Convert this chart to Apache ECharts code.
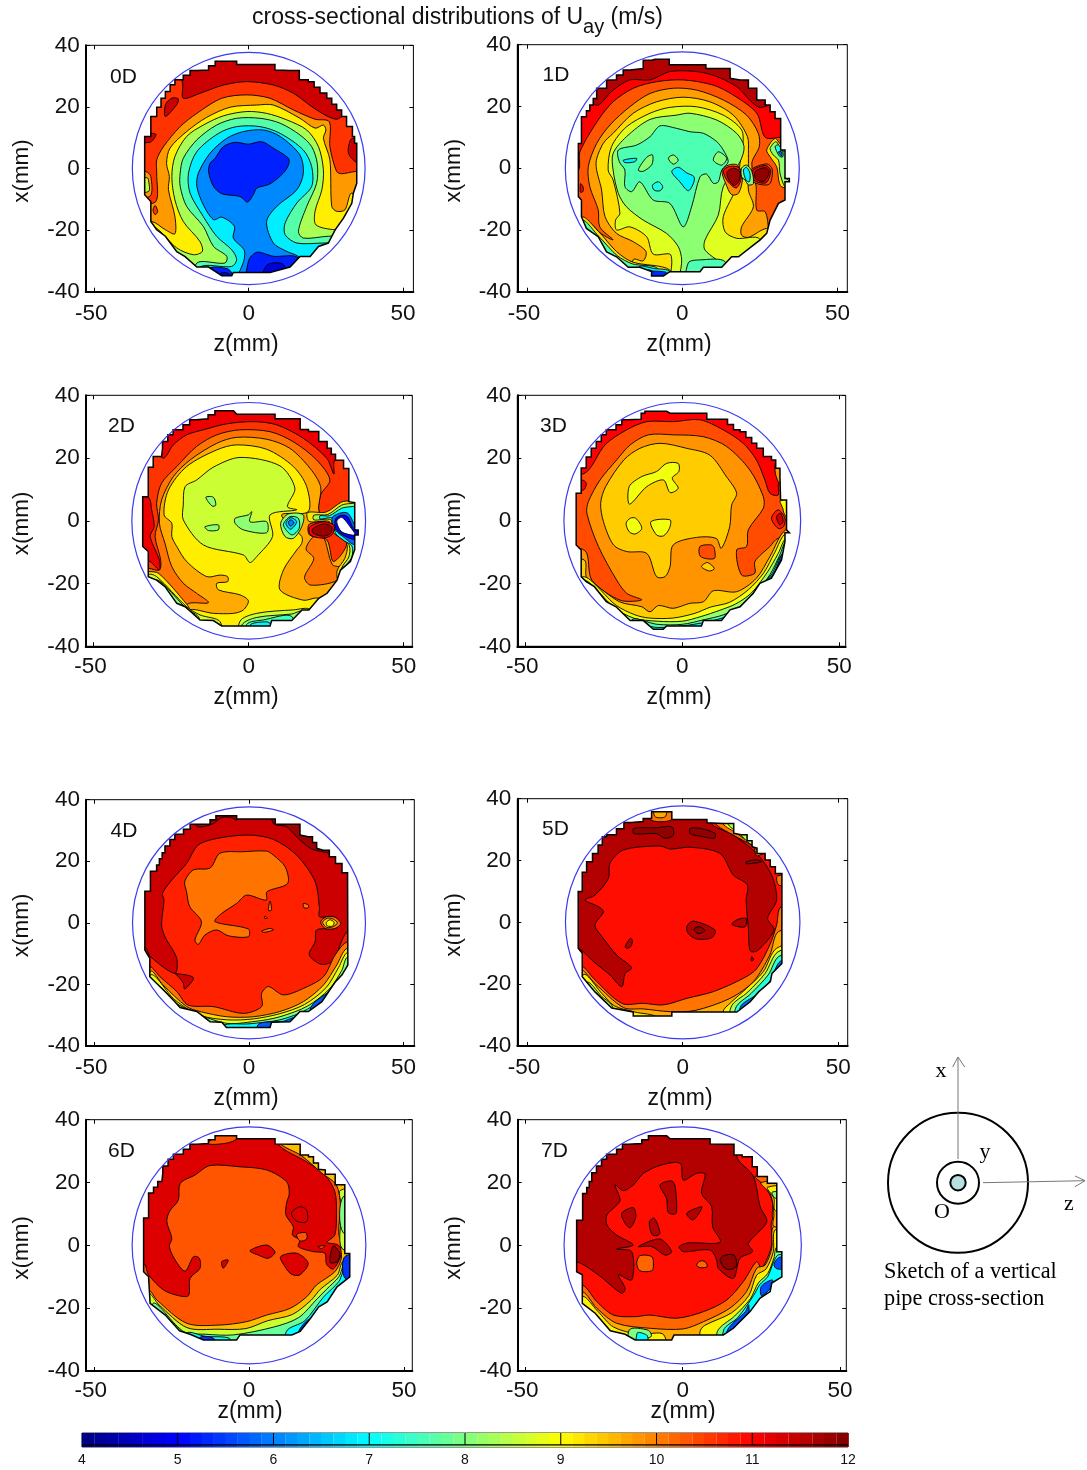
<!DOCTYPE html>
<html><head><meta charset="utf-8">
<script src="https://cdn.jsdelivr.net/npm/echarts@6/dist/echarts.min.js"></script>
<style>html,body{margin:0;padding:0;background:#fff}#c{width:1087px;height:1470px}</style>
</head><body><div id="c"></div>
<script>
// All contour data are [z(mm), x(mm)] pairs; value = velocity level in m/s.
const ALL=[-45,-45,45,-45,45,45,-45,45];
const panelNames=['0D','1D','2D','3D','4D','5D','6D','7D'];
const xTicks=[-50,0,50];
const colorbarBands=[4.06,4.19,4.31,4.44,4.56,4.69,4.81,4.94,5.06,5.19,5.31,5.44,5.56,5.69,5.81,5.94,6.06,6.19,6.31,6.44,6.56,6.69,6.81,6.94,7.06,7.19,7.31,7.44,7.56,7.69,7.81,7.94,8.06,8.19,8.31,8.44,8.56,8.69,8.81,8.94,9.06,9.19,9.31,9.44,9.56,9.69,9.81,9.94,10.06,10.19,10.31,10.44,10.56,10.69,10.81,10.94,11.06,11.19,11.31,11.44,11.56,11.69,11.81,11.94];

const outline0=[-8.7,34.8,-5.2,34.8,-3.9,33.8,7.1,33.8,8.5,32,13.4,31.8,16.4,28.8,19.3,28.2,23.1,24.5,25.3,22.8,28.5,19,30.1,16.9,31.7,13.6,33.6,10.4,35,6,35,-4.8,33.9,-8,33.4,-11.3,30.7,-16.1,28,-19.9,25.8,-24.2,22.6,-25.3,19.9,-28.6,16.6,-28.6,13.4,-32,6.9,-33.8,-5,-33.8,-5.5,-34.8,-8.7,-34.8,-13,-32,-16.8,-32,-20.6,-28.6,-23.3,-27,-27,-22,-29.8,-19.9,-31.7,-17.2,-31.7,-10.7,-33.7,-8.5,-33.7,7.1,-31.7,10.4,-31.7,13.6,-29.8,16.9,-27,22.8,-23.9,27.2,-21.2,28.8,-16.8,31.8,-13,32];
const regions0=[
[10.6,ALL],
[11.4,[-21.4,27.6,-24,40,40,40,31,18,28.3,16,22,19,14.5,24.4,8,27.1,-.6,28.2,-8.2,27.1,-15.8,24.4,-21.2,22.8]],
[11.4,[-27,16.9,-27,20.6,-25,22.8,-22.8,22.6,-23.4,20.6]],
[11.4,[-31.7,11.4,-30,11,-32,8.5,-40,9]],
[11.4,[32.3,5,33.6,9.8,40,6,40,1.2,36,1.2]],
[9.8,[-30.3,-11,-29.8,-1.5,-29.8,2.8,-27.6,7.1,-22.2,13.6,-16.8,17.9,-8.7,22.8,-.6,23.9,6.9,22.8,14.5,19,21.5,16,26.1,15.2,26.3,7.1,28.5,-1,30.1,-1.7,34.4,-1,40,-1,40,-40,-40,-40,-40,-11]],
[10.6,[-30.3,-12,-29.5,-14,-30.3,-15,-31,-13.5]],
[9.13,[-26.6,1.7,-25.5,6.6,-20.1,12,-13.6,16.6,-6,19.9,2.6,20.6,8,20.6,16.6,16.3,21.5,13.1,24.2,14.1,25,12.5,24.2,9.8,26.3,2.8,26.9,-12.3,28.5,-13.9,31.2,-13.4,33.4,-8,40,-14,40,-40,-40,-40,-40,-17.5,-31.4,-17.2,-27,-19.9,-23.9,-21.2,-23.9,-15.6,-26,-6.9,-25.7,-2.6]],
[8.33,[-30.9,-18.8,-23.3,-25.8,-17.9,-28,-15,-26.9,-15.8,-23.7,-21.2,-17.2,-23.9,-10.2,-24.9,-2.6,-23.9,3.9,-20.1,10.4,-14.7,14.1,-8.2,17.1,-.6,18.5,5.8,17.9,12.3,15.8,18.8,12.5,22.6,7.1,24.2,-.4,23.7,-6.9,21.5,-13.9,21.8,-18.3,28,-19.9,40,-20,40,-40,-40,-40,-40,-18.8]],
[7.67,[-16.8,-30.7,-7.7,-30.7,-7.1,-28.5,-11.4,-25.3,-14.7,-18.8,-20.1,-12.3,-22.2,-5.8,-22.2,-1.5,-21.2,3.3,-16.8,9.3,-10.4,14.1,-3.9,16.3,3.7,16.3,10.2,14.7,16.6,10.9,20.4,7.1,22.2,1.7,22,-4.8,18.8,-12.3,16.1,-20.4,17.7,-22.6,25.8,-22,40,-22,40,-40,-16.8,-40]],
[6.87,[-15.8,-32,-5.5,-31.8,-3.9,-29.6,-5.5,-26.4,-10.4,-22,-14.7,-15.6,-19,-8,-19.5,-1.5,-16.8,5.5,-9.8,11.4,-3.9,13.6,3.7,13.6,10.2,11.4,17.7,6,20.4,.6,20.4,-5.8,15.6,-11.2,11.8,-17.7,11.8,-21.5,15.6,-24.2,24.2,-24.2,40,-24.2,40,-40,-15.8,-40]],
[6.07,[-4.4,-40,-1.5,-29.6,-1.5,-26.4,-5,-22.6,-4.6,-18.8,-8.7,-15.8,-11.4,-16.6,-14.7,-11.8,-16.8,-5.8,-16.3,-1.5,-12.5,5,-7.1,9.8,-1.7,12,4.8,12.5,10.2,10.4,16.6,4.4,17.7,-1.5,15.6,-6.9,9.1,-12.3,5.8,-17.2,8,-24.2,12.3,-26.9,16,-28.5,20,-33,20,-40]],
[5.25,[-10.9,3.3,-8.2,7.1,-4.4,8.5,-.1,7.9,4.2,8.7,8,6.6,12.9,3.3,12.9,1.2,11.2,-1.5,6.9,-5,2.6,-6.4,1.5,-8.5,-.4,-10.9,-2.8,-9.1,-8.7,-8.2,-11.4,-5.8,-13,-1,-12.5,1.7]],
[5.25,[-.1,-40,-.1,-30.1,2.6,-27.2,8,-28.5,16,-29,20,-40]],
[4.7,[3.7,-40,5.8,-31.5,11.2,-31.2,13.4,-40]],
[5.25,[-15,-40,-13,-32.5,-7,-32.5,-5.5,-34,-5,-40]],
[4.7,[-9,-40,-9,-34,-6,-34.5,-5,-40]],
[9.8,[-33.3,-1,-31.7,-2.6,-32,-9,-40,-9,-40,-1]],
[8.5,[-33,-3,-32.5,-3.5,-32.5,-7.5,-40,-7,-40,-3]]
];

const outline1=[-8.8,35.3,-5.6,35.3,-4.2,33.5,6.8,33.5,7.6,32.3,12.1,32.3,15.4,29.1,18.6,28.6,21.3,25.9,24,24.2,24,22.1,26.7,20.5,29.9,16.1,31.7,13.4,31.7,5.9,33.1,5.3,33.1,-3.3,34.5,-4.4,33.1,-7.1,33.1,-10.3,31,-11.4,28.3,-16.8,27.2,-21.1,25,-23.3,22.9,-24.9,18.1,-28.7,15.9,-28.7,12.7,-32.1,6.8,-32.1,5.7,-33.5,-4,-33.5,-6.1,-34.9,-9.9,-34.9,-9.9,-33.5,-13.7,-32.1,-17.4,-32.1,-21.2,-28.7,-24.4,-27.1,-27.1,-22.2,-30.9,-19.5,-32.5,-15.7,-32.5,-10.3,-33.5,-9.2,-33.5,5.9,-32.5,8,-32.5,13.4,-30.9,16.7,-28.7,20.5,-27.6,22.6,-24.4,25.9,-21.2,28.6,-16.9,31.8,-12.6,32.3,-9.9,35];
const regions1=[
[11,ALL],
[11.6,[-27.8,20.4,-22.3,25.3,-16.9,28.6,-10.4,28.6,-4,31.3,4.6,31.3,11.1,29.7,17.5,26.4,25.6,19.7,40,30,0,45,-35,30]],
[10.33,[-33.5,-.6,-33,5.3,-27.1,15.6,-22.3,21.5,-15.8,25.9,-8.3,28,.3,28.6,10,26.9,16.4,23.7,24,17.8,26.7,10,31.7,10,40,10,40,-40,-40,-40,-40,-.6]],
[11,[-32.8,-5,-32,-6,-32,-7.5,-32.8,-7.8]],
[9.75,[-22.3,-23.2,-26.6,-19,-27.1,-13.5,-29.8,-6,-30.3,.5,-27.6,8,-23.3,14,-16.9,19.9,-10.4,24.2,-2.9,25.9,4.6,25.3,13.2,22.1,20.7,17.2,24.5,11.3,24.8,7,22.4,1.6,23.8,-6,24,-13.6,26.7,-14.1,27.7,-20,26.7,-23.3,30,-30,0,-40,-40,-40,-40,-17,-31.5,-16.5,-26,-21.3]],
[9.27,[-15.8,-29.6,-12.6,-30,-11.7,-27,-15.8,-23.8,-21.2,-21.1,-24.9,-15.7,-26,-7.1,-27.8,1.6,-25.5,8,-22.3,11.3,-15.8,17.8,-8.3,21.5,.3,23,8.9,21.5,16.4,17.2,21,10.2,21.3,4.8,21.3,1.6,21.3,-7.1,22.9,-12.5,19.1,-19,19.1,-21.7,21.3,-22.4,27.2,-19.5,40,-20,30,-40,0,-40,-17,-40]],
[8.75,[-2.9,-40,-3.4,-29.7,-4,-27.8,-9.4,-27.8,-11.5,-22.2,-16.9,-19,-21.2,-20,-21.5,-16.8,-20.1,-14.6,-22.3,-3.8,-23.9,-.6,-22.8,7,-18,13.4,-10.4,17.8,-4,19.7,4.6,19.9,13.2,17.2,19.1,12.4,19.5,7,18.6,1.6,17.5,-6,13.2,-15.7,13.8,-20.6,17.5,-22.7,25,-23,30,-40]],
[8.1,[-.5,-40,-.2,-29.7,-1.3,-25.4,-5.1,-21.1,-12.6,-16.8,-18,-12.5,-20.6,-8.2,-22.3,-.6,-22.3,4.8,-18,10.2,-10.4,15.8,-1.8,17.2,2.5,17.8,11.1,15.6,17.5,11.3,19.9,7,18.6,2.1,13.2,-6,11.6,-15.2,7.3,-23.3,7.3,-26.5,14,-32,20,-40]],
[7.6,[-20.6,5.9,-14.7,7.5,-10.4,10.2,-7.2,13.7,-1.8,12.9,2.5,11.8,6.8,11.3,11.1,8.6,13.2,5.9,14.8,2.1,12.7,-.6,11.6,-4.4,10,-4.9,7.8,-1.9,5.7,-2.8,3,-12.5,.3,-19,-4,-11.4,-9.4,-10.3,-13.7,-4.4,-16.3,-7.6,-18.5,-6,-18.5,-.6,-20.3,2.1]],
[8.1,[-14.2,-.6,-11.5,3.5,-9.6,4.3,-9.8,1.2,-12.6,-1]],
[8.1,[-4.5,3.2,-2.9,4.3,-1.3,2.6,-2.9,1.3]],
[8.1,[10,2.6,11.6,5.3,14.3,3.2,12.7,1]],
[6.9,[-3.4,-1.1,-1.3,.3,1.4,-1.5,3.8,-2.8,3.5,-5.1,1.9,-7.3,-.8,-4.4]],
[7.2,[-9.6,-5.5,-7.7,-4.4,-6.3,-6,-7.2,-7.3,-9.1,-7.1]],
[6.9,[-19,2.6,-14.7,3.2,-15.3,2.1,-18.5,1.8]],
[9.2,[27.2,5.9,29.9,9.6,32,7.5,40,5,40,-5.5,32,-6,30.4,.5,28.3,3.7]],
[8.1,[28.3,6.4,30.2,8.6,32,5.9,40,1.5,33.1,-2.7,34.5,-4.4,33.1,-6,31.5,-1.7,31,2.6,29.3,4.3]],
[7.2,[29.9,7,31,7.5,32.4,5.3,32.4,3.7,31.3,3.9]],
[5.8,[31,5.3,32,5.3,32,3.9]],
[9.9,[12.8,-.8,14.8,1,17.8,1,19.4,-2.8,18.2,-8,15.9,-8.6,14,-5]],
[10.9,[13.2,-.8,15.3,.6,18.2,.2,19,-3.2,17.4,-6.4,14.6,-4.2]],
[11.8,[14.4,-1.2,16.6,0,18.6,-1.2,18.4,-3.8,16.8,-5.6,15,-3.8]],
[10.4,[22.2,-.6,27.2,1.4,29,-.4,28,-5.2,22.8,-4.4]],
[11.2,[22.6,-.8,26.8,.9,28.5,-.8,27,-4.7,23.2,-4]],
[11.85,[23.4,-1.2,26.7,.2,28,-1.2,26.4,-4.2,23.8,-3.6]],
[8,[19.1,0,20.7,1,22.4,-1,22.9,-5,21.3,-5.4,20.2,-3.8,19.1,-2.8]],
[6.9,[19.7,-.6,20.7,.3,21.8,-1.7,21.6,-4.4,20.5,-3.8]],
[9.27,[-32.5,-16,-27,-20.5,-21.2,-27,-16,-30.4,-4,-33,-4,-40,-40,-40]],
[7.6,[-32.5,-17,-27,-22,-21,-28.3,-16,-31,-8,-32.5,-8,-40,-40,-40]],
[6.9,[-14,-32,-9,-32.5,-4,-33.5,-4,-40,-14,-40]],
[5.3,[-11,-33,-9.5,-33.3,-6,-33.5,-5,-34,-5,-40,-11,-40]],
[7.6,[1.6,-40,1.9,-30.7,5.7,-29.7,13.8,-30.3,14,-40]]
];

const outline2=[-8.7,35.1,-4.9,35.1,-3.9,34,7.4,34,8.5,32.5,13.9,32.5,16.6,29.1,19.3,28.5,22.6,25.3,25.3,23.1,28,19.3,30.6,16.7,32.3,13.6,32.3,6.1,34.2,5.8,34.2,-2.9,35.3,-4.5,34.2,-7.2,34.2,-9.2,32.8,-13,29.6,-15.7,28.5,-18.9,25.3,-23.1,22.6,-24.7,19.4,-28.4,17.2,-28.4,13.9,-31.8,7.4,-31.8,6.9,-33.5,-8.7,-33.5,-11.4,-31.8,-15.7,-31.6,-20.5,-27.4,-23.2,-26.3,-27,-21,-29.7,-18.9,-32.4,-17.8,-32.4,-9.8,-34.2,-8.2,-34.2,5.6,-32.4,7.7,-32.4,13.6,-30.8,17.1,-28.1,20.5,-27.8,23.1,-24.4,27.4,-21.2,29,-16.9,32.2,-13.1,32.5];
const regions2=[
[10.6,ALL],
[11.15,[-27.7,20,-24.3,24.2,-20,27.4,-14.6,29,-7.1,30.9,1.5,31.6,9,30.6,17.6,26.3,25.2,19.9,27.5,14.9,27.8,19.4,40,30,0,45,-35,30]],
[11.15,[-40,8,-32.4,7.5,-31.3,3.5,-30.5,-1.9,-31.8,-5,-28.8,-12.5,-28.8,-15.7,-31.8,-13,-40,-9]],
[10.1,[-32.4,-15.1,-28.8,-15.7,-28.4,-12.5,-30.2,-5,-29.1,.3,-29.7,5.6,-28.1,12,-23.2,17.3,-16.8,23.7,-10.3,27.4,-2.8,29,6.9,28.4,14.4,25.2,21.9,19.4,26.2,13,23.2,8.2,23.2,2.4,40,2.4,40,-40,-40,-40,-40,-15.1]],
[9.67,[-20,-26.8,-13,-26.1,-16.8,-23.1,-21.1,-19.9,-24.8,-14.6,-27,-7.2,-28.8,-.8,-28.1,6.6,-24.3,14.1,-18.9,19.4,-10.3,24.7,-3.9,26.6,5.8,26,13.3,23.1,19.8,16.7,23.2,10.9,23.2,2.4,40,2.4,40,-40,-20,-40]],
[9.13,[-19.5,-28.7,-11.4,-29.5,-4.9,-29.5,-1.7,-28.4,-.1,-25.5,-2.8,-23.6,-9.8,-22,-10.3,-19.9,-6.8,-19.4,-6.8,-17.8,-9.2,-17.3,-13.5,-17.8,-20,-13,-23.2,-8.2,-24.8,-5,-24.8,-.8,-27.3,1.9,-25.9,9.8,-20,17.3,-10.3,22.6,-3.9,24.2,5.8,22.8,14.4,17.3,18.7,10.9,19.2,2.9,10.6,1.9,17.1,-5,17.1,-7.2,15.5,-9.3,11.2,-15.7,10.1,-22,17.6,-25.3,22.5,-24.7,30,-30,0,-40,-20,-40]],
[8.6,[-20.5,10.9,-16.8,13,-11.4,17.1,-2.8,20.2,10.1,17.5,14.9,10.4,12.5,4.5,15.5,3.5,6.9,1.9,7.7,-5,2.6,-11.4,.4,-13.3,-1.7,-10.9,-14.6,-7.7,-21.1,.3,-21.1,5]],
[8.1,[-13.8,7.5,-11.4,7.5,-10.6,5,-11.8,4.7]],
[8.1,[-14.1,-1.9,-9.8,-1.3,-9.8,-2.9,-13,-3.1]],
[8.1,[-4.4,.8,-.1,1.9,1,2.9,.4,-.3,5.8,-.3,5.8,-3.8,-1.7,-2.9,-4.4,-.8]],
[8.1,[10.3,-.8,12.8,2.2,17.6,1.9,17.1,-1.9,14.4,-5.6,11.7,-5]],
[7.3,[11.2,-1.3,13.3,1.3,16,.8,16.3,-2.4,13.9,-4.5]],
[6.6,[12,-.8,13.5,1,15.5,-.3,13.5,-2.7]],
[6,[12.8,-.6,13.5,.3,14.6,-.6,13.5,-1.7]],
[10.1,[18.5,-9,21,-5,24,-5,27,-14,30,-15,28.5,-19,20,-20.5,18,-18,21,-12]],
[9.2,[19,2.6,25,2.8,30,6,33,6.3,40,6.3,40,-20,29.5,-20,28.5,-16,31,-12,31.8,-8,30,-5.5,26,-3,26,-.2,19.5,-.2]],
[10.6,[19.6,-1,26.2,-.8,31.6,-7.2,27.3,-13,25.2,-6.1,19.6,-4.5]],
[8.3,[21,1.8,25.5,2,30,5,33,5.5,40,5.5,40,-20,30.2,-18,30,-15,32.3,-11.5,32.5,-8,30.5,-6,27,-3.5,26.5,.3,21,.3]],
[7,[23,1.6,26,1.6,30,4,33,4.5,40,4.5,40,-20,31,-15.5,33.3,-11.5,33.3,-8,31,-6.5,28,-4,27,.8,23,.6]],
[5.8,[27,1.2,30,2.6,32,2.4,33.5,0,35,-4,34,-7.5,31,-5.5,28,-3,27,-.6]],
[5,[28,.6,30,1.8,32,1.2,34,-2.5,40,-4.5,34.5,-6,30.5,-4.6,28,-2.4]],
[99,[28.4,-.2,30,1.1,32.7,-1.9,34.3,-4.5,30,-3.5]],
[11,[19.6,-2,24.1,-.3,27.5,-1.5,27,-4.3,24.1,-5.5,20,-4.6]],
[11.8,[20.6,-2.6,24.1,-1,26.8,-1.9,26.4,-4,24.1,-4.9,20.8,-4]],
[8.6,[-2.8,-32,2.6,-29.5,14.4,-28.4,19.8,-28.4,19.8,-40,-2.8,-40]],
[8.1,[-2.2,-33.2,2.6,-30.8,13.9,-29.7,17,-29,17,-40,-2.2,-40]],
[7.5,[-.6,-33,4.7,-31.6,13.9,-30.5,14,-40,-.6,-40]],
[6.9,[.4,-33.3,5.8,-32.2,7,-33,7,-40,.4,-40]],
[9.13,[-32.4,-16.2,-29,-16.8,-20,-26.6,-19,-28.6,-19,-40,-40,-40,-40,-16.2]],
[8.6,[-32.4,-17.3,-29.7,-17.8,-20,-27.4,-15.7,-30,-9.2,-32.2,-9.2,-40,-40,-40]],
[8,[-30,-19,-20,-28,-16,-31,-16,-40,-30,-40]]
];

const outline3=[-8.7,34.9,-5,34.9,-3.9,34.3,6.2,34.3,7.8,32.4,12.5,32.4,16.3,29,18.4,28.4,22.1,24.7,23.7,23.1,25.8,20.5,28.4,19.4,31.1,14.1,31.3,6.6,33.2,5.8,33.2,-2.9,34.1,-3.8,32.7,-6.6,31.6,-12.5,28.4,-18.3,24.7,-19.9,22.6,-23.1,18.4,-27.4,15.2,-28.4,12.5,-31.8,6.7,-31.8,6.1,-33.5,-5,-33.5,-6.1,-34.6,-9.2,-34.6,-12.4,-31.8,-16.6,-31.8,-21.1,-27.4,-24.2,-25.8,-28,-21,-30.6,-19.4,-32.2,-17.8,-32.2,-9.3,-33.8,-7.7,-33.8,7.2,-32.2,8.8,-32.2,13.6,-30.6,16.8,-29,20.3,-27.4,23.1,-24.2,27.4,-21.1,29,-17.4,32.2,-13.1,32.4,-11.9,34.3];
const regions3=[
[10.4,ALL],
[11,[-31,15.2,-24.6,24.2,-17.7,29,-11.3,31.6,-2.9,31.6,5.6,32.2,13,29,19.4,24.7,23.6,19.4,26.3,13,27.9,8.8,30.5,8.2,31,13,40,15,0,45,-40,15]],
[9.85,[30,19,31,12,40,12,40,19]],
[11,[-32,13,-30.6,12,-31.5,9.8,-40,10]],
[9.85,[-40,-9.8,-31,-9.5,-28.8,-18.9,-19.8,-25.3,-12.9,-25.2,-17.7,-23.1,-20.9,-18.9,-26.7,-8.2,-30.4,2.4,-29.9,6.1,-26.2,13,-20.9,19.4,-16.6,24.2,-10.8,27.4,-2.9,27.4,6.7,26.8,14.1,23.7,21.5,16.2,25.8,7.7,25.8,4,21,-2.9,20.5,-8.2,17.3,-9.3,18.9,-17.3,23.1,-16.7,23.1,-13,27.9,-8.2,30.5,-5.6,40,-5,40,-40,-40,-40]],
[9.4,[-26,5.6,-24.4,10.9,-18.6,19.4,-13.5,23.1,-7.1,24.7,1.4,23.1,8.8,20.9,14.1,14,17.3,8.8,15.7,5,15.1,-1.9,12.4,-8.8,10.8,-5.6,4.5,-5.3,-2.9,-7.7,-3.9,-14.6,-5.5,-17.8,-8.2,-17.8,-11.3,-10.4,-17.7,-9.8,-21.9,-7.7,-25.1,-.3]],
[8.9,[-16.9,10.9,-12.9,14.1,-8.2,15.7,-5,18.3,-1.3,18.3,-1.1,15.7,-3.2,13.6,-1.3,10.4,-3.9,9,-6,13,-11.3,10.9,-16.8,5.3]],
[8.9,[-17.9,-.8,-16.6,.8,-14.8,.8,-12.9,-2.4,-15,-4.2,-16.9,-3.5]],
[8.9,[-10,-.3,-3.9,.3,-4.1,-2.4,-6,-4.8,-8.2,-4.5]],
[10.4,[5.6,-8.2,9.3,-7.7,10.2,-8.8,10.2,-12,5.8,-11.4]],
[9.4,[6.1,-14.6,8,-13.3,10.2,-15.2,8.6,-16]],
[9.4,[-40,-12.5,-31.2,-12.5,-30.6,-17.8,-28.8,-19.4,-20,-25.8,-12.9,-27.4,-10.3,-29,-7.6,-27,-2.9,-27.9,2.4,-26.3,6.7,-25.8,9.9,-22.3,17.3,-22.6,23.6,-18.3,27.9,-11.4,32.9,-2.9,40,-2.9,40,-40,-40,-40]],
[8.9,[-32,-18,-21,-27,-15,-30,-10.5,-31,-3,-31,4,-29.5,9,-27.5,15,-26,21,-22,26,-16.5,29.5,-10,33,-4,40,-4,40,-40,-40,-40]],
[8.2,[-32,-19,-21.5,-27.8,-15.5,-31,-8,-32,0,-32,6,-30.5,12,-28.5,17,-26.5,22,-23,27,-16.5,30.5,-10.5,33.5,-5,40,-5,40,-40,-40,-40]],
[7.6,[-16,-31.5,-8,-33,0,-33,7,-31.5,13,-30,18,-27.5,23,-23.5,28,-17,31,-11,33.5,-6,40,-6,40,-40,-16,-40]],
[6.9,[-16,-33,-8,-34,0,-33.5,8,-32.2,14,-30.5,19,-27.5,24,-21.5,28.5,-17,32,-10.5,40,-8,40,-40,-16,-40]],
[6,[20,-27,25,-20.5,29,-17,33,-9,40,-10,40,-40,20,-40]],
[5.3,[22,-24.5,25,-20.5,28.5,-18,32,-12,32,-40,22,-40]],
[9,[31.3,6.5,40,6.5,40,1,33,1.5,32,4]],
[10.8,[28.4,.8,30.5,3.5,32.7,.8,32.2,-1.9,30.5,-2.4]],
[11.4,[30,1.3,31.3,2.4,32.1,-.3,31,-1.3]]
];

const outline4=[-8.8,34.8,-5.3,34.8,-4,33.7,7,33.7,8.5,32.1,13.3,32,16.5,28.5,19.2,28,21.9,24.2,24,23.6,28,19.3,30.1,16.3,31.9,13.4,32,-13.7,30.1,-16.9,28,-19.1,25.8,-22.3,23.6,-25.6,19.2,-28.8,16.5,-28.8,13.3,-32.1,7.3,-32.3,6.8,-34,-7.3,-34,-8.8,-32.3,-12.6,-32.1,-16.9,-28.8,-22.3,-27.5,-24,-25.6,-27.2,-22.3,-32.1,-17.5,-32.1,-11.5,-33.7,-8.8,-33.7,7,-31.9,10.3,-31.9,13.4,-29.9,16.8,-27.2,22.8,-24,27.1,-21.2,28.8,-16.9,32,-12.6,32.1];
const regions4=[
[11.4,ALL],
[11.75,[-17,40,-17,31.5,-12,32,-8.8,34.2,-5.6,34.2,-4,33.4,-4,40]],
[11.75,[7.9,32.3,12.2,31.2,16.5,26.9,21.4,23.6,40,22,30,40,7,40]],
[10.75,[-28,9.6,-25,13.9,-20.2,19.3,-16.4,25.3,-9.4,27.6,.3,28.5,7.9,27.1,15.4,22,21.4,13.4,22.8,4.7,22.8,2,27.3,2,29.5,-.2,27.9,-1.8,21.9,-2.3,21.4,-6.1,19.5,-10.4,23.5,-13.5,27.3,-12.1,31.9,-2.9,40,-3,40,-40,-40,-40,-40,-8,-33.7,-8,-31.9,-11,-24,-16.4,-23.4,-11.5,-27.2,-4.5,-28.3,-.7,-27.5,7.4]],
[11.4,[-24,-16.4,-18,-17.8,-20.8,-21.5,-21.3,-19.5,-23.5,-16.8]],
[10.1,[-20.8,13.4,-18,17.2,-12.6,17.8,-9.4,22.6,-1.8,23.1,5.7,23.3,7.9,22,11.7,18.2,12.5,12.8,5.8,10.1,5.6,7.4,-.8,9,-4,6.3,-8.9,3,-11,.4,-.2,-2,-.2,-4.5,-6.7,-4.2,-10.5,-2.3,-14.3,-4,-16.4,-7,-17.5,-5.6,-15.4,.4,-19.2,5.3,-20.2,10.1]],
[10.1,[-32.1,-14.2,-28.8,-17.5,-23.4,-22.3,-19.7,-26.7,-11.6,-27.2,-1.8,-29.4,4.1,-27.2,4.1,-22.9,6.3,-20.7,11.1,-23.4,17.6,-21.3,24.1,-17.5,27.9,-10.4,31.9,-6.1,40,-6,40,-40,-40,-40,-40,-14.2]],
[9.3,[-31.9,-15.8,-27.9,-20.1,-20.2,-27.2,-15.9,-28.8,-7.2,-30.5,1.4,-30.5,10,-28.8,17.6,-25.6,24.1,-20.2,28.4,-13.7,31.7,-8.3,40,-8,40,-40,-40,-40]],
[8.8,[-32,-17,-24,-25,-16,-30,-7,-31.5,1.4,-31.2,10,-29.5,18,-26.5,25,-21,29,-14.5,32,-9.5,40,-9.5,40,-40,-40,-40]],
[8,[-29,-21,-23,-26.5,-8,-32.5,2,-32,10,-30.5,19,-27,26,-21.5,30,-15.5,32,-11,40,-11,40,-40,-29,-40]],
[7,[-8.5,-33.5,0,-32.8,10,-31.5,19,-28,27,-21,31,-15.5,33,-12.5,40,-12.5,40,-40,-8.5,-40]],
[5.7,[3,-33,11,-32,15,-31,15,-40,3,-40]],
[5.7,[20,-27.5,27,-21.5,31,-17,40,-14,40,-40,20,-40]],
[10.1,[23.2,.4,25.2,2,27.9,1.8,29.7,-.2,27.9,-1.8,24.6,-1.8]],
[9.5,[23.8,.2,25.4,1.5,27.3,1.2,28.6,0,27.3,-1.2,25.2,-1.5]],
[9,[25,.1,26.2,1,27.5,.2,27.1,-1,25.4,-1]],
[10.1,[6.8,7.1,7.3,4.2,6.3,4]],
[10.1,[17.6,6.3,19.2,5.8,19.2,4.9,17.8,4.9]],
[10.1,[4.1,-2.7,6.8,-1.8,7.9,-2.3,4.9,-3.1]],
[10.1,[5.2,2.2,5.9,1.5,5,1.5]]
];

const outline5=[-8.9,35.8,-5.1,35.8,-3.5,33.3,6.2,33.3,7.8,32.2,13.2,32,16.4,28.8,19.1,28.3,22.3,24.5,23.9,24,23.9,22.3,26.5,20.2,29.8,15.8,31.9,13.1,31.9,-13.3,28.7,-16.5,28.2,-19.2,24.4,-22.5,21.7,-25.7,17.4,-29,-3.5,-29,-3.5,-30.3,-15.9,-30.3,-15.9,-29,-22.8,-27.7,-28.2,-22.5,-32.3,-17.6,-32.3,-10,-33.6,-8.4,-33.6,7.2,-32.3,10,-32.3,13.1,-30.9,16.2,-29,19.6,-27.2,22.3,-24.5,27.7,-21.3,28.3,-16.5,32.3,-12.7,32.6,-10,33.6];
const regions5=[
[11.6,ALL],
[11.85,[-15.7,30.4,-8.4,30.6,-3.5,30.9,-3,28.2,-5.7,27.2,-8.4,28.7,-15.7,28.7]],
[11.85,[2.4,30.4,5.6,30.4,10.4,28.8,10.2,27.2,6.6,27.7,2.4,28.7]],
[11.85,[20.4,19.6,23.8,20.2,25.4,19.6,22.7,19.1,20.4,19]],
[10.9,[-31.4,7.2,-28.2,8.8,-23.9,14.2,-23.4,19.1,-19.1,23.4,-7.3,24.7,-4.1,23.7,2.4,24.3,12,22.3,16.3,15.3,20.8,12.1,20.4,7.2,21.1,-1.9,21.7,-9.2,24,-9.2,29.4,-2.5,27.3,1.3,30.2,7.2,28.6,15.3,23.8,22.3,16.3,28.2,8.8,32.3,8,40,40,40,40,-40,-40,-40,-40,-8,-33.6,-8.4,-28.7,-12.7,-23.4,-17,-19.6,-20.8,-18.5,-16.5,-16.4,-14.7,-21.2,-10.6,-25.5,-5.2,-28.2,-.9,-25.5,3.4,-27.1,5.1]],
[11.6,[1.3,-1.4,3.4,.4,10.4,-2.5,9.3,-5,4.5,-5.4,1.8,-3.6]],
[11.85,[3.6,-2.2,5.4,-1.4,7.2,-2.7,5,-3.6]],
[11.6,[15.8,-.6,17.4,.8,20.4,1.3,20.1,-1.4,17.9,-1.4]],
[11.6,[-18.5,-7.9,-16.9,-5.2,-16.2,-5.7,-16.6,-7.7,-18,-8.4]],
[11.6,[22.2,-11.1,22.8,-12.2,22,-12.4]],
[10.1,[-10.5,33.3,-3.5,33.3,-3.5,40,-10.5,40]],
[9.67,[-9,34.3,-5.5,34.3,-5.5,40,-9,40]],
[10.1,[-32.3,-14.3,-28.7,-18.1,-19.6,-26.2,-12.6,-26.2,-6.2,-26.7,1.3,-24.6,9.9,-22.4,19.5,-18.1,23.8,-15,28,-7.3,30.2,-.9,31.6,5,40,5,40,-40,-40,-40,-40,-14.3]],
[10.1,[30.5,15,31,12,40,12,40,15]],
[9.67,[-33,-15.5,-28,-20,-19,-27.6,-12.7,-28,-4,-28.9,4,-28.5,15.2,-24.6,22.7,-19.2,28,-10.6,30.8,-3,40,-3,40,-40,-40,-40]],
[9.1,[-32,-17,-26,-23,-22,-27,-15.5,-29,-8,-31,-8,-40,-40,-40]],
[9.1,[13,-28.8,15.2,-26.2,20.6,-21.3,25.9,-16,30.2,-8.4,40,-7,40,-40,13,-40]],
[8.3,[15.5,-27.5,21,-22.5,26.5,-16.5,30.7,-9.5,40,-8.5,40,-40,15.5,-40]],
[7.3,[17,-27.8,22,-23,27.5,-17,31,-11,40,-10,40,-40,17,-40]],
[5.8,[18.5,-27.5,23.5,-23.5,28,-19,31.5,-12.5,40,-11,40,-40,18.5,-40]],
[8.3,[-31,-19.5,-26,-24,-22.5,-27.5,-22.5,-40,-40,-40]],
[10.1,[10.4,32.3,16.3,28.2,22.7,24.5,24,21.5,40,30,10.4,40]],
[9.1,[12.5,32.5,17,29,22,25.5,24,23.5,40,30,12.5,40]],
[8.3,[14.5,32,18,28.9,23,25,40,30,14.5,40]]
];

const outline6=[-8.8,34.9,-5.2,34.9,-4,33.9,7.3,33.9,8.4,32.3,13.3,32.2,16.5,28.8,19.2,28.2,22.4,24.2,24.6,24,24.6,22.6,27.8,19.3,30.9,16.2,30.9,-2.6,32.5,-3.6,32.5,-10,28.4,-13.2,25.2,-18,22.5,-19.6,19.8,-23.3,16.5,-27.4,13.8,-28.5,-2.9,-28.5,-4,-30.1,-14.7,-30.1,-19,-28.3,-22.4,-27.2,-27,-22.2,-31.9,-18.5,-32.4,-10,-34,-8.4,-34,7,-32.4,8.7,-32.4,13.5,-30.8,16.7,-28.1,20.3,-27.8,23.1,-24.4,27.4,-21.2,29,-16.9,32.2,-13.1,32.4];
const regions6=[
[11.27,ALL],
[10.33,[-26.5,7.5,-25.7,10.7,-22.8,14.4,-22.2,19.7,-17.4,22.4,-12.6,25.4,-2.9,25,5.7,24,12.1,20.3,13,16.6,12.1,13.4,11.9,9.7,14.3,5.9,14,3.3,16.4,1.7,15.9,-.4,20.7,-2,24.5,-2.5,25,-6,27.2,-7.5,29.9,-2.5,28.8,.1,25.2,1,27.7,3.3,28.2,10.7,27.7,17.1,24.5,22.4,18.6,26.6,9.5,32.1,8,40,40,40,40,-40,-40,-40,-40,-5.7,-34,-5.7,-32.4,-9.4,-27.6,-14.2,-22.8,-16,-19.5,-16,-19,-10.5,-15.8,-7.3,-16,-4.1,-17.9,-3.6,-20.6,-8.2,-23.8,-4.7,-25.7,-.4,-24.9,2.2]],
[10.33,[-13.1,32.4,-8.8,36,-5,36,-4,33.9,-7.5,32.5]],
[11.27,[13.7,10.3,16.4,12.3,18.6,11.2,18.6,7.5,15.4,7.7]],
[11.27,[.3,-1.7,5.7,.1,8.4,-2.2,6.2,-4.1,3,-3.1]],
[11.27,[10.2,-3.6,15.4,-2.5,19.1,-5.7,16.4,-9.4,13.7,-9.2,11.6,-6.8]],
[11.27,[-8.8,-5.2,-6.7,-4.7,-8.3,-7.3]],
[10.33,[15.4,3.5,18.4,4,18.6,2,16.4,1.4]],
[10.33,[22.3,-.4,24.5,-.1,23.4,-1]],
[11.8,[27.2,-.2,29.3,-2.5,28.5,-5.2,26.1,-5.4]],
[9.53,[-32.4,-14.2,-29.7,-17.4,-20.1,-24.8,-9.9,-25.4,-.8,-24.3,5.7,-22.2,13.2,-20.1,18.6,-16.4,21.8,-12.6,27.7,-8.4,29.8,-4.2,30,.5,40,.5,40,-40,-40,-40,-40,-14.2]],
[9.53,[9.5,33,17,28.5,23.5,23,28.2,19.2,29.5,12.8,29.6,2,40,2,40,40,9.5,40]],
[8.6,[29.5,17.5,30,12,30,-1,40,-1,40,17.5]],
[8,[30.4,15.5,30.4,4,40,4,40,15.5]],
[8.6,[-32.4,-15.5,-29,-19,-20,-26.2,-10,-26.7,-1,-26.5,6,-24,14,-22,20,-17.5,23,-14,28.5,-9.5,30.5,-5,40,-4,40,-40,-40,-40]],
[7.8,[-31,-18.5,-21,-27.5,-14,-28.3,-5,-28.5,8,-26,16,-23,22,-17,25,-14,29,-10,31,-6,40,-5,40,-40,-31,-40]],
[7,[-20,-28,-14,-29,-8,-29.2,-6,-30,-6,-40,-20,-40]],
[7,[12,-27.5,18,-24,24,-16.5,29,-11.5,31.5,-6.5,40,-6,40,-40,12,-40]],
[5.4,[-16,-29.5,-11,-30,-11,-40,-16,-40]],
[5.4,[31,-3.5,40,-3.5,40,-14,31,-10.5]],
[5.4,[16,-27.5,20,-23.5,20,-40,16,-40]]
];

const outline7=[-8.8,34.9,-5.1,34.9,-4,33.9,7.4,33.9,8.7,32.3,12.9,32.2,16.3,28.8,18.9,28.2,22.1,25,23.7,24.3,23.7,21.9,26.9,19.8,29.9,16.6,29.9,-2,31.5,-3.6,31.5,-10,28.3,-12,27.8,-14.7,24.6,-16.8,21.4,-21.1,16.1,-26.4,12.9,-28.5,-2.75,-28.5,-3.5,-30.1,-15.1,-30.1,-18.3,-28.3,-23,-27.2,-27.8,-21.6,-31.9,-18.5,-31.9,-9.4,-33.7,-8.4,-33.7,7,-31.8,8,-31.8,13.8,-30.5,16.5,-28.9,20.3,-27.4,23.1,-24.2,27.4,-21,29,-17.3,32.2,-13,32.4];
const regions7=[
[11.6,ALL],
[10.9,[-24.1,9.7,-22,11.8,-19.9,14.4,-21.5,19.2,-18.9,17.4,-15.7,19.2,-12.5,22.9,-6.7,25.6,-.8,26.1,.2,20.8,4.4,22.9,7.1,22.7,6,16.6,9.2,12.3,9.5,5.9,11.9,1,1.8,.8,-1.1,-.4,.2,-2,8.7,-1.5,10.8,-4.7,11.3,-7.3,16.1,-10.5,18.2,-4.1,22.2,-2,20.9,.6,26.7,7.5,24.6,12.3,22.5,21.9,17.2,28.2,17,40,40,40,40,-40,-40,-40,-40,-5.3,-33.7,-5.2,-26.8,-9.4,-19.4,-15.3,-18.3,-13.7,-20.4,-9.4,-16.2,-11,-16.2,-2,-21,-1.2,-15.7,.1,-21,3.3,-24.1,6.5]],
[11.6,[-7.2,19.2,-3.5,20.5,-2.4,18.7,-2.1,10.2,-4.6,10.5,-5.1,14.9]],
[11.6,[-19.4,10.2,-15.7,12,-14.9,9.1,-16.7,5.6,-18.3,7]],
[11.6,[1.3,10.2,6,12.3,5.5,10.7,3.2,8.1]],
[11.6,[-10.6,7.5,-9,8.6,-7.2,3.9,-8.3,3.1,-9.8,3.5]],
[11.6,[-14.1,-.4,-7.2,2,-3.5,-2,-5.6,-3.1,-9.8,-.4]],
[10.2,[-14.6,-5.7,-13.6,-3.3,-9.8,-3.6,-9.3,-6.3,-9.8,-8.1,-13.6,-8.1]],
[10.2,[4.4,-6.3,5.5,-5,7.1,-5.2,7.8,-6.8,5.5,-7.1]],
[11.85,[11.9,-4.7,12.9,-3.3,16.3,-3.1,17.2,-6.3,15.6,-7.6,13.4,-7.3]],
[10.2,[-31.9,-12.6,-27.3,-17.9,-22,-22.2,-15.1,-22.7,-10.4,-22.2,-1.9,-23.2,6.6,-21.1,14,-17.4,19.3,-11.5,23.5,-5.2,25.1,-7.3,28.3,.1,28.3,8,31,8,40,8,40,-40,-40,-40,-40,-12.6]],
[10.2,[23,22,26,19,28.5,14,29,8,40,8,40,22]],
[9.67,[-31.9,-14.7,-27.3,-20,-21,-24.8,-10.4,-26.4,.2,-26.6,6.6,-24.3,15,-20,20.3,-14.7,23.5,-7.3,26.2,-6.3,28.3,-.9,29,6,40,6,40,-40,-40,-40,-40,-14.7]],
[9.67,[25,20,28,16,29,10,29,6,40,6,40,20]],
[9.1,[-31.9,-16.5,-27,-21,-22,-26,-14,-28.3,-6,-28.5,-6,-40,-40,-40]],
[9.1,[5.5,-27.5,7,-25.5,15.5,-21.5,21,-16,23.5,-9.5,26.5,-7.5,28.8,-2,29.5,5,40,5,40,-40,5.5,-40]],
[9.1,[27,18.5,29,15,29.5,11,40,11,40,18.5]],
[8,[11,-27.5,16.5,-22.5,21.5,-17,24,-12,27,-9,29,-4,30,-.5,40,0,40,-40,11,-40]],
[8,[-17,-27,-11,-27,-10,-29,-15,-31,-17,-40]],
[8,[28.5,17,29.5,15,40,15,40,17]],
[7,[13,-27,17.5,-23,22.5,-16,24.5,-12.5,27,-10,29,-5,30.5,-3,40,-3,40,-40,13,-40]],
[7,[-14.5,-28,-11.5,-28.5,-11,-30,-11,-40,-14.5,-40]],
[5.6,[14,-27.5,20,-21,21,-19,21,-40,14,-40]],
[5.6,[25,-13,28.5,-11,28,-13.5,25,-16]],
[5.6,[29,-6,31,-3.7,40,-4,40,-7.5,30,-7.5]]
];

const outlines=[outline0,outline1,outline2,outline3,outline4,outline5,outline6,outline7];
const regionSets=[regions0,regions1,regions2,regions3,regions4,regions5,regions6,regions7];

// layout: box left, right, top, bottom, px of z=0, px per mm, tick-label y, name y, name x, tag x, tag y, ylabel x
const layouts=[
[85.7,413.4,45.3,291.7,248.7,3.087,313,343,246,110,76,22],
[517.3,847.3,44.7,291.7,682.3,3.103,313,343,679,542.5,74,454],
[85.7,412.3,395.3,646.3,248.7,3.1,666,696,246,108,425,22],
[517.3,845.7,395.3,646.3,682.3,3.14,666,696,679,540,425,454],
[86,414.3,799.7,1046,249,3.09,1067,1097,246,110.5,830,22],
[517.3,847.7,798.7,1046,682.7,3.11,1067,1097,680,542,828,454],
[86,412.3,1119.7,1371,249,3.1,1390,1410,250,108,1150,22],
[517.7,846.3,1119.7,1371,682.7,3.147,1390,1410,683,541,1150,454]
];

const SANS='"Liberation Sans",Arial,sans-serif', SERIF='"Liberation Serif","Times New Roman",serif';
function jet(v){
  if(v>12.5) return '#ffffff';
  const t=(v-4)/8, c=x=>Math.round(255*Math.max(0,Math.min(1,x)));
  return `rgb(${c(Math.min(4*t-1.5,-4*t+4.5))},${c(Math.min(4*t-.5,-4*t+3.5))},${c(Math.min(4*t+.5,-4*t+2.5))})`;
}
function pts(api,flat){const o=[];for(let i=0;i<flat.length;i+=2)o.push(api.coord([flat[i],flat[i+1]]));return o;}
// The measuring grid makes the upper edge of the sampled area step-like: draw slanted upper edges as stairs.
function stepped(flat){
  const o=[],n=flat.length/2;
  for(let i=0;i<n;i++){
    const a=flat[2*i],b=flat[2*i+1],c=flat[(2*i+2)%flat.length],d=flat[(2*i+3)%flat.length];
    o.push(a,b);
    const m=Math.round(Math.max(Math.abs(c-a),Math.abs(d-b))/2.4);
    if(b>-8&&d>-8&&Math.abs(c-a)>.6&&Math.abs(d-b)>.6&&m>=1){
      for(let k=0;k<m;k++){
        const z1=a+(c-a)*(k+1)/m,x0=b+(d-b)*k/m,x1=b+(d-b)*(k+1)/m;
        if(d>b){o.push(a+(c-a)*k/m,x1,z1,x1);}else{o.push(z1,x0,z1,x1);}
      }
    }
  }
  return o;
}

const grid=[],xAxis=[],yAxis=[],series=[],graphic=[];
const tickStyle={color:'#000'};
layouts.forEach((L,i)=>{
  const [l,r,t,b,x0,s,tickY,nameY,nameX,tagX,tagY,ylX]=L;
  grid.push({left:l,top:t,width:r-l,height:b-t,show:true,borderColor:'#000',borderWidth:1,backgroundColor:'#fff'});
  const xmin=(l-x0)/s,xmax=(r-x0)/s;
  const xBase={type:'value',gridIndex:i,min:xmin,max:xmax,splitLine:{show:false},
    axisTick:{show:true,inside:true,length:4,customValues:xTicks,lineStyle:tickStyle}};
  xAxis.push(Object.assign({},xBase,{position:'bottom',axisLine:{show:true,onZero:false,lineStyle:{color:'#000',width:2}},
    axisLabel:{show:true,customValues:xTicks,margin:tickY-b-11,color:'#111',fontSize:22.5,fontFamily:SANS,hideOverlap:false,formatter:v=>v<0?v+' ':String(v)}}));
  xAxis.push(Object.assign({},xBase,{position:'top',axisLine:{show:false,onZero:false},axisLabel:{show:false}}));
  const yBase={type:'value',gridIndex:i,min:-40,max:40,interval:20,splitLine:{show:false},
    axisTick:{show:true,inside:true,length:4,lineStyle:tickStyle}};
  yAxis.push(Object.assign({},yBase,{position:'left',axisLine:{show:true,onZero:false,lineStyle:{color:'#000',width:2}},
    axisLabel:{show:true,margin:6,color:'#111',fontSize:22.5,fontFamily:SANS}}));
  yAxis.push(Object.assign({},yBase,{position:'right',axisLine:{show:false,onZero:false},axisLabel:{show:false}}));

  const regs=regionSets[i],outline=stepped(outlines[i]);
  series.push({type:'custom',coordinateSystem:'cartesian2d',xAxisIndex:2*i,yAxisIndex:2*i,clip:false,silent:true,z:3,
    data:regs.map((rg,k)=>[rg[1][0],rg[1][1],rg[0],k]),encode:{x:0,y:1},
    renderItem(p,api){
      const rg=regs[p.dataIndex];
      return {type:'polygon',shape:{points:pts(api,rg[1]),smooth:p.dataIndex?0.3:0},
        style:{fill:jet(rg[0]),stroke:'#000',lineWidth:0.9},
        clipPath:{type:'polygon',shape:{points:pts(api,outline)}}};
    }});
  // pipe wall and measured-area outline
  series.push({type:'custom',coordinateSystem:'cartesian2d',xAxisIndex:2*i,yAxisIndex:2*i,clip:false,silent:true,z:4,
    data:[[0,0,37.7]],encode:{x:0,y:1},
    renderItem(p,api){
      const c=api.coord([0,0]),e=api.coord([37.7,37.7]);
      return {type:'group',children:[
        {type:'polygon',shape:{points:pts(api,outline)},style:{fill:'none',stroke:'#000',lineWidth:1.5}},
        {type:'ellipse',shape:{cx:c[0],cy:c[1],rx:e[0]-c[0],ry:c[1]-e[1]},style:{fill:'none',stroke:'#3a3af5',lineWidth:1.2}}
      ]};
    }});
  graphic.push({type:'text',left:tagX,top:tagY-9,style:{text:panelNames[i],fontSize:21,fontFamily:SANS,fill:'#111'}});
  graphic.push({type:'text',x:nameX,y:nameY+2,style:{text:'z(mm)',fontSize:23,fontFamily:SANS,fill:'#111',align:'center',verticalAlign:'middle'}});
  graphic.push({type:'text',x:ylX,y:(t+b)/2+2.5,rotation:Math.PI/2,style:{text:'x(mm)',fontSize:22.5,fontFamily:SANS,fill:'#111',align:'center',verticalAlign:'middle'}});
});

// colour bar
const cb=8;
grid.push({left:82,top:1433,width:766,height:14,show:true,borderColor:'#333',borderWidth:1});
xAxis.push({type:'value',gridIndex:cb,min:4,max:12,interval:1,position:'bottom',splitLine:{show:false},axisLine:{show:false,onZero:false},axisTick:{show:false},
  axisLabel:{margin:6,color:'#111',fontSize:14,fontFamily:SANS}});
yAxis.push({type:'value',gridIndex:cb,min:0,max:1,show:false});
series.push({type:'custom',coordinateSystem:'cartesian2d',xAxisIndex:16,yAxisIndex:16,silent:true,z:3,
  data:colorbarBands.map(v=>[v]),encode:{x:0},
  renderItem(p,api){
    const v=api.value(0),a=api.coord([v-.0625,1]),d=api.coord([v+.0625,0]);
    return {type:'rect',shape:{x:a[0],y:a[1],width:d[0]-a[0]+.5,height:d[1]-a[1]},style:{fill:jet(v)}};
  }});
const cbTicks=[5,6,7,8,9,10,11];
series.push({type:'custom',coordinateSystem:'cartesian2d',xAxisIndex:16,yAxisIndex:16,silent:true,z:4,
  data:cbTicks.map(v=>[v]),encode:{x:0},
  renderItem(p,api){
    const a=api.coord([api.value(0),1]),d=api.coord([api.value(0),.15]);
    return {type:'line',shape:{x1:a[0],y1:a[1],x2:d[0],y2:d[1]},style:{stroke:'#000',lineWidth:1}};
  }});
series.push({type:'custom',coordinateSystem:'cartesian2d',xAxisIndex:16,yAxisIndex:16,silent:true,z:4,
  data:[[4]],encode:{x:0},
  renderItem(p,api){
    const a=api.coord([4,.15]),d=api.coord([12,.15]);
    return {type:'line',shape:{x1:a[0],y1:a[1],x2:d[0],y2:d[1]},style:{stroke:'#000',lineWidth:1.2}};
  }});

// title
graphic.push({type:'text',x:252,y:17.5,style:{text:'cross-sectional distributions of U{s|ay} (m/s)',fontSize:23,fontFamily:SANS,fill:'#111',verticalAlign:'middle',
  rich:{s:{fontSize:20,fontFamily:SANS,fill:'#111',padding:[20,0,0,0]}}}});

// sketch of the pipe cross-section
const ink='#000',gray='#777';
[[958,1182.7,70,'none'],[958,1182.7,21,'none'],[958,1182.7,7.7,'#b5dfe0']].forEach(c=>{
  graphic.push({type:'circle',shape:{cx:c[0],cy:c[1],r:c[2]},style:{fill:c[3],stroke:ink,lineWidth:2}});
});
[[958,1159,958,1057],[952.7,1067,958,1057],[964.7,1067,958,1057],[983,1182.7,1085,1180.7],[1075,1176,1085,1180.7],[1075,1186.7,1085,1180.7]].forEach(l=>{
  graphic.push({type:'line',shape:{x1:l[0],y1:l[1],x2:l[2],y2:l[3]},style:{stroke:gray,lineWidth:1}});
});
[['x',941,1071],['y',985,1152],['z',1069,1204],['O',942,1212]].forEach(t=>{
  graphic.push({type:'text',x:t[1],y:t[2],style:{text:t[0],fontSize:22,fontFamily:SERIF,fill:'#000',align:'center',verticalAlign:'middle'}});
});
graphic.push({type:'text',x:884,y:1272,style:{text:'Sketch of a vertical',fontSize:22.3,fontFamily:SERIF,fill:'#000',verticalAlign:'middle'}});
graphic.push({type:'text',x:884,y:1299,style:{text:'pipe cross-section',fontSize:22.3,fontFamily:SERIF,fill:'#000',verticalAlign:'middle'}});

const chart=echarts.init(document.getElementById('c'),null,{renderer:'canvas',width:1087,height:1470});
chart.setOption({animation:false,backgroundColor:'#fff',grid,xAxis,yAxis,series,graphic});
</script></body></html>
